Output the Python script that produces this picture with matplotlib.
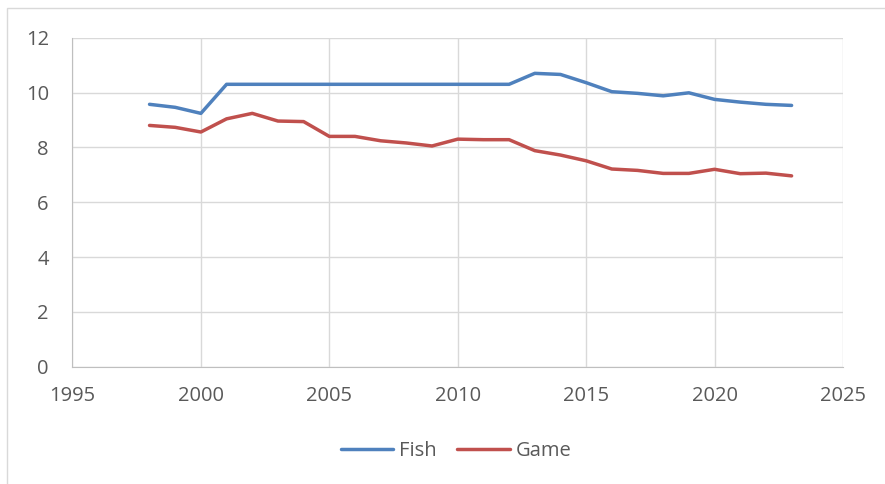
import matplotlib.pyplot as plt
from matplotlib.patches import Rectangle

years = list(range(1998, 2024))
fish = [9.57, 9.46, 9.24, 10.30, 10.30, 10.30, 10.30, 10.30, 10.30, 10.30,
        10.30, 10.30, 10.30, 10.30, 10.30, 10.70, 10.66, 10.36, 10.03, 9.97,
        9.88, 9.99, 9.75, 9.65, 9.57, 9.53]
game = [8.80, 8.73, 8.56, 9.04, 9.24, 8.96, 8.94, 8.40, 8.40, 8.24,
        8.16, 8.05, 8.30, 8.28, 8.28, 7.88, 7.72, 7.51, 7.21, 7.16,
        7.05, 7.05, 7.20, 7.04, 7.06, 6.96]

plt.rcParams['font.family'] = ['Open Sans', 'DejaVu Sans']

fig = plt.figure(figsize=(8.85, 4.84), dpi=100)
# outer chart border
fig.patches.append(Rectangle((0.008, -0.02), 1.2, 1.003, transform=fig.transFigure,
                             fill=False, edgecolor='#D9D9D9', linewidth=1))
ax = fig.add_axes([0.0819, 0.2424, 0.8706, 0.6797])

ax.plot(years, fish, color='#4F81BD', linewidth=2.5, label='Fish', solid_capstyle='round')
ax.plot(years, game, color='#C0504D', linewidth=2.5, label='Game', solid_capstyle='round')

ax.set_xlim(1995, 2025)
ax.set_ylim(0, 12)
ax.set_xticks(range(1995, 2026, 5))
ax.set_yticks(range(0, 13, 2))
ax.grid(True, color='#D9D9D9', linewidth=1)
ax.set_axisbelow(True)
for side in ['top', 'right']:
    ax.spines[side].set_visible(False)
for side in ['left', 'bottom']:
    ax.spines[side].set_color('#BFBFBF')
ax.tick_params(length=0, labelsize=14.5, colors='#595959')
ax.tick_params(axis='y', pad=17)
ax.tick_params(axis='x', pad=14)

ax.legend(loc='center', bbox_to_anchor=(0.498, -0.256), ncol=2, frameon=False,
          fontsize=14.5, labelcolor='#595959', handlelength=2.6, columnspacing=1.0,
          handletextpad=0.3)

fig.savefig('out.png', dpi=100)
